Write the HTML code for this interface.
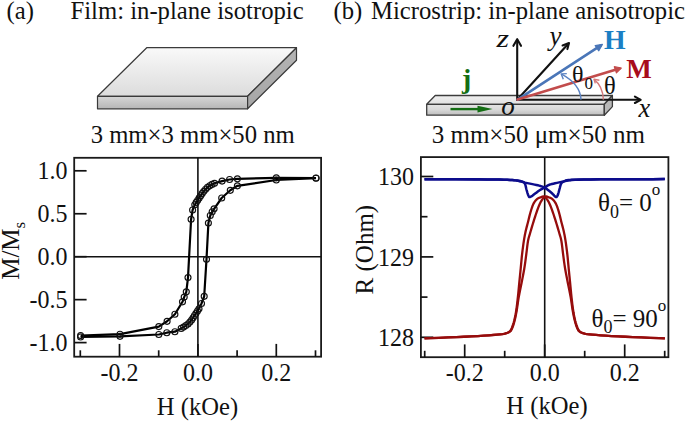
<!DOCTYPE html>
<html><head><meta charset="utf-8"><style>
html,body{margin:0;padding:0;background:#fff;}
svg{display:block;}
text{font-family:"Liberation Serif", serif;}
</style></head><body>
<svg width="685" height="421" viewBox="0 0 685 421" fill="#111">
<rect width="685" height="421" fill="#fff"/>

<defs>
<linearGradient id="gtop" x1="0" y1="0" x2="0" y2="1"><stop offset="0" stop-color="#f9f9f9"/><stop offset="1" stop-color="#dcdcdc"/></linearGradient>
<linearGradient id="gfront" x1="0" y1="0" x2="0" y2="1"><stop offset="0" stop-color="#d6d6d6"/><stop offset="1" stop-color="#b6b6b6"/></linearGradient>
<linearGradient id="gside" x1="0" y1="0" x2="0" y2="1"><stop offset="0" stop-color="#b4b4b4"/><stop offset="1" stop-color="#a6a6a6"/></linearGradient>
<linearGradient id="gtop2" x1="0" y1="0" x2="0" y2="1"><stop offset="0" stop-color="#efefef"/><stop offset="1" stop-color="#e0e0e0"/></linearGradient>
<linearGradient id="gfront2" x1="0" y1="0" x2="0" y2="1"><stop offset="0" stop-color="#e4e4e4"/><stop offset="0.5" stop-color="#d8d8d8"/><stop offset="1" stop-color="#bdbdbd"/></linearGradient>
</defs>
<g stroke="#3a3a3a" stroke-width="1.2" stroke-linejoin="round">
<polygon points="146.7,47.7 296.5,47.7 247.6,96.3 97.5,96.3" fill="url(#gtop)"/>
<polygon points="97.5,96.3 247.6,96.3 247.6,108.8 97.5,108.8" fill="url(#gfront)"/>
<polygon points="247.6,96.3 296.5,47.7 296.5,60.3 247.6,108.8" fill="url(#gside)"/>
</g>

<g stroke="#3c3c3c" stroke-width="1.3" stroke-linejoin="round">
<polygon points="435.2,95.5 612.4,95.5 604.3,104.3 426.7,104.3" fill="url(#gtop2)"/>
<polygon points="426.7,104.3 604.3,104.3 604.3,115.2 426.7,115.2" fill="url(#gfront2)"/>
<polygon points="604.3,104.3 612.4,95.5 612.4,106.6 604.3,115.2" fill="#b8b8b8"/>
</g>
<g stroke="#111" stroke-width="2.1" fill="none" stroke-linecap="round" stroke-linejoin="round">
<line x1="517.2" y1="99.8" x2="517.2" y2="40"/>
<polyline points="513.4,45.8 517.2,39.2 521,45.8"/>
<line x1="517.2" y1="99.8" x2="568.3" y2="43.8"/>
<polyline points="562.6,45.5 569.0,43.0 567.4,49.1"/>
<line x1="517.2" y1="99.8" x2="640" y2="99.8"/>
<polyline points="634.9,96.6 640.7,99.8 634.9,103"/>
</g>
<g stroke="#4a76b8" stroke-width="2.6" fill="none" stroke-linecap="round" stroke-linejoin="round">
<line x1="517.6" y1="99.6" x2="600.5" y2="45.6"/>
<polygon points="595.2,45.6 602.4,44.4 598.8,50.8" fill="#4a76b8" stroke-width="1.2"/>
</g>
<g stroke="#c24c4c" stroke-width="2.6" fill="none" stroke-linecap="round" stroke-linejoin="round">
<line x1="517.6" y1="99.6" x2="619.5" y2="68.6"/>
<polygon points="614.3,66.7 621.3,68 616.4,72.9" fill="#c24c4c" stroke-width="1.2"/>
</g>
<path d="M581,99.6 C580.6,90 576,82 561.6,74.2" fill="none" stroke="#5a82c2" stroke-width="1.4"/>
<polyline points="566.8,73.6 561.2,73.9 563.3,79.2" fill="none" stroke="#5a82c2" stroke-width="1.4" stroke-linejoin="round"/>
<path d="M603.4,99.6 C603,91 600,84 594.2,79.6" fill="none" stroke="#d47a7a" stroke-width="1.4"/>
<polyline points="599.4,80.2 594,79.3 595.3,83.4" fill="none" stroke="#d47a7a" stroke-width="1.4" stroke-linejoin="round"/>
<line x1="450.5" y1="109.1" x2="480" y2="109.1" stroke="#146e14" stroke-width="2.4"/>
<polygon points="477.5,105.8 492.6,109.1 477.5,112.4" fill="#146e14"/>
<text x="462" y="87.8" font-size="27.8" font-weight="bold" style="fill:#146e14">j</text>
<text x="501.3" y="114.8" font-size="27" font-style="italic">o</text>
<text transform="translate(496.5,46.6) scale(1.25,1)" font-size="25.7" font-style="italic">z</text>
<text x="549.5" y="45.3" font-size="27" font-style="italic">y</text>
<text x="638.6" y="117.2" font-size="26.5" font-style="italic">x</text>
<text x="604" y="48.9" font-size="27.8" font-weight="bold" style="fill:#1b7fc4">H</text>
<text x="626.2" y="77.6" font-size="27" font-weight="bold" style="fill:#a80c1c">M</text>
<text x="572" y="82.4" font-size="24">θ<tspan font-size="17" dx="1" dy="6.5">0</tspan></text>
<text x="603.9" y="94.2" font-size="24.5">θ</text>

<text x="6.5" y="18.7" font-size="24.7">(a)</text>
<text x="70.5" y="18.7" font-size="24.7">Film: in-plane isotropic</text>
<text x="333.5" y="18.7" font-size="24.7">(b)</text>
<text x="371" y="18.7" font-size="24.7">Microstrip: in-plane anisotropic</text>
<text x="192.7" y="142.6" font-size="24.7" text-anchor="middle">3 mm×3 mm×50 nm</text>
<text x="538.3" y="142.6" font-size="25" text-anchor="middle">3 mm×50 μm×50 nm</text>
<rect x="74.2" y="157.8" width="246.90000000000003" height="198.89999999999998" fill="none" stroke="#1a1a1a" stroke-width="1.8"/>
<line x1="197.9" y1="157.8" x2="197.9" y2="356.7" stroke="#111" stroke-width="1.6"/>
<line x1="74.2" y1="256.8" x2="321.1" y2="256.8" stroke="#111" stroke-width="1.6"/>
<line x1="74.2" y1="170.80" x2="86.60000000000001" y2="170.80" stroke="#111" stroke-width="1.7"/>
<text transform="translate(67.6,179.44) scale(1,1.08)" font-size="24" text-anchor="end">1.0</text>
<line x1="74.2" y1="213.75" x2="86.60000000000001" y2="213.75" stroke="#111" stroke-width="1.7"/>
<text transform="translate(67.6,222.39) scale(1,1.08)" font-size="24" text-anchor="end">0.5</text>
<line x1="74.2" y1="256.70" x2="86.60000000000001" y2="256.70" stroke="#111" stroke-width="1.7"/>
<text transform="translate(67.6,265.34) scale(1,1.08)" font-size="24" text-anchor="end">0.0</text>
<line x1="74.2" y1="299.65" x2="86.60000000000001" y2="299.65" stroke="#111" stroke-width="1.7"/>
<text transform="translate(67.6,308.29) scale(1,1.08)" font-size="24" text-anchor="end">-0.5</text>
<line x1="74.2" y1="342.60" x2="86.60000000000001" y2="342.60" stroke="#111" stroke-width="1.7"/>
<text transform="translate(67.6,351.24) scale(1,1.08)" font-size="24" text-anchor="end">-1.0</text>
<line x1="80.30" y1="356.7" x2="80.30" y2="350.30" stroke="#111" stroke-width="1.7"/>
<line x1="119.50" y1="356.7" x2="119.50" y2="343.90" stroke="#111" stroke-width="1.7"/>
<line x1="158.70" y1="356.7" x2="158.70" y2="350.30" stroke="#111" stroke-width="1.7"/>
<line x1="197.90" y1="356.7" x2="197.90" y2="343.90" stroke="#111" stroke-width="1.7"/>
<line x1="237.10" y1="356.7" x2="237.10" y2="350.30" stroke="#111" stroke-width="1.7"/>
<line x1="276.30" y1="356.7" x2="276.30" y2="343.90" stroke="#111" stroke-width="1.7"/>
<line x1="315.50" y1="356.7" x2="315.50" y2="350.30" stroke="#111" stroke-width="1.7"/>
<text transform="translate(119.5,380.84) scale(1,1.08)" font-size="24" text-anchor="middle">-0.2</text>
<text transform="translate(197.9,380.84) scale(1,1.08)" font-size="24" text-anchor="middle">0.0</text>
<text transform="translate(276.3,380.84) scale(1,1.08)" font-size="24" text-anchor="middle">0.2</text>
<text x="197.5" y="414.7" font-size="24.6" text-anchor="middle" >H (kOe)</text>
<text transform="translate(19,279.8) rotate(-90)" font-size="25">M/M<tspan font-size="17" dy="5.7">s</tspan></text>
<g fill="none" stroke="#111" stroke-width="1.15">
<path d="M316.00,178.00 L276.30,177.80 L237.40,178.80 L229.60,179.50 L222.10,181.10 L214.50,183.30 L212.04,184.42 L209.67,185.70 L207.53,187.34 L205.58,189.21 L203.83,191.26 L202.24,193.44 L200.70,195.66 L199.24,197.93 L197.74,200.18 L196.24,202.42 L194.83,204.73 L192.60,210.00 L191.10,219.30 L188.00,277.60 L186.30,291.80 L184.20,297.10 L182.50,301.80 L174.90,314.20 L167.10,321.30 L158.80,326.60 L120.00,334.20 L80.60,335.60" fill="none" stroke="#000" stroke-width="2.2" stroke-linejoin="round"/>
<path d="M80.60,337.00 L120.00,336.30 L158.80,334.50 L166.80,332.70 L174.90,331.70 L181.20,328.40 L183.55,327.08 L185.84,325.65 L187.96,323.98 L189.88,322.08 L191.56,319.97 L193.08,317.74 L194.54,315.47 L196.02,313.21 L197.51,310.96 L199.00,308.71 L201.50,303.50 L204.20,296.30 L206.50,259.30 L208.40,223.10 L210.30,215.50 L212.20,211.70 L214.10,208.80 L221.70,198.00 L230.30,190.30 L237.40,185.80 L276.30,180.00 L316.00,178.20" fill="none" stroke="#000" stroke-width="2.2" stroke-linejoin="round"/>
<circle cx="316.0" cy="178.0" r="3.0"/>
<circle cx="276.3" cy="177.8" r="3.0"/>
<circle cx="237.4" cy="178.8" r="3.0"/>
<circle cx="229.6" cy="179.5" r="3.0"/>
<circle cx="222.1" cy="181.1" r="3.0"/>
<circle cx="214.5" cy="183.3" r="3.0"/>
<circle cx="212.0" cy="184.4" r="3.0"/>
<circle cx="209.7" cy="185.7" r="3.0"/>
<circle cx="207.5" cy="187.3" r="3.0"/>
<circle cx="205.6" cy="189.2" r="3.0"/>
<circle cx="203.8" cy="191.3" r="3.0"/>
<circle cx="202.2" cy="193.4" r="3.0"/>
<circle cx="200.7" cy="195.7" r="3.0"/>
<circle cx="199.2" cy="197.9" r="3.0"/>
<circle cx="197.7" cy="200.2" r="3.0"/>
<circle cx="196.2" cy="202.4" r="3.0"/>
<circle cx="194.8" cy="204.7" r="3.0"/>
<circle cx="192.6" cy="210.0" r="3.0"/>
<circle cx="191.1" cy="219.3" r="3.0"/>
<circle cx="188.0" cy="277.6" r="3.0"/>
<circle cx="186.3" cy="291.8" r="3.0"/>
<circle cx="184.2" cy="297.1" r="3.0"/>
<circle cx="182.5" cy="301.8" r="3.0"/>
<circle cx="174.9" cy="314.2" r="3.0"/>
<circle cx="167.1" cy="321.3" r="3.0"/>
<circle cx="158.8" cy="326.6" r="3.0"/>
<circle cx="120.0" cy="334.2" r="3.0"/>
<circle cx="80.6" cy="335.6" r="3.0"/>
<circle cx="80.6" cy="337.0" r="3.0"/>
<circle cx="120.0" cy="336.3" r="3.0"/>
<circle cx="158.8" cy="334.5" r="3.0"/>
<circle cx="166.8" cy="332.7" r="3.0"/>
<circle cx="174.9" cy="331.7" r="3.0"/>
<circle cx="181.2" cy="328.4" r="3.0"/>
<circle cx="183.6" cy="327.1" r="3.0"/>
<circle cx="185.8" cy="325.6" r="3.0"/>
<circle cx="188.0" cy="324.0" r="3.0"/>
<circle cx="189.9" cy="322.1" r="3.0"/>
<circle cx="191.6" cy="320.0" r="3.0"/>
<circle cx="193.1" cy="317.7" r="3.0"/>
<circle cx="194.5" cy="315.5" r="3.0"/>
<circle cx="196.0" cy="313.2" r="3.0"/>
<circle cx="197.5" cy="311.0" r="3.0"/>
<circle cx="199.0" cy="308.7" r="3.0"/>
<circle cx="201.5" cy="303.5" r="3.0"/>
<circle cx="204.2" cy="296.3" r="3.0"/>
<circle cx="206.5" cy="259.3" r="3.0"/>
<circle cx="208.4" cy="223.1" r="3.0"/>
<circle cx="210.3" cy="215.5" r="3.0"/>
<circle cx="212.2" cy="211.7" r="3.0"/>
<circle cx="214.1" cy="208.8" r="3.0"/>
<circle cx="221.7" cy="198.0" r="3.0"/>
<circle cx="230.3" cy="190.3" r="3.0"/>
<circle cx="237.4" cy="185.8" r="3.0"/>
<circle cx="276.3" cy="180.0" r="3.0"/>
<circle cx="316.0" cy="178.2" r="3.0"/>
</g>
<rect x="420.9" y="157.1" width="247.5" height="200.1" fill="none" stroke="#1a1a1a" stroke-width="1.8"/>
<line x1="544.7" y1="157.1" x2="544.7" y2="357.2" stroke="#111" stroke-width="1.6"/>
<line x1="420.9" y1="176.50" x2="433.30" y2="176.50" stroke="#111" stroke-width="1.7"/>
<text transform="translate(414,185.14) scale(1,1.08)" font-size="24" text-anchor="end">130</text>
<line x1="420.9" y1="216.70" x2="427.50" y2="216.70" stroke="#111" stroke-width="1.7"/>
<line x1="420.9" y1="256.90" x2="433.30" y2="256.90" stroke="#111" stroke-width="1.7"/>
<text transform="translate(414,265.54) scale(1,1.08)" font-size="24" text-anchor="end">129</text>
<line x1="420.9" y1="297.10" x2="427.50" y2="297.10" stroke="#111" stroke-width="1.7"/>
<line x1="420.9" y1="337.30" x2="433.30" y2="337.30" stroke="#111" stroke-width="1.7"/>
<text transform="translate(414,345.94) scale(1,1.08)" font-size="24" text-anchor="end">128</text>
<line x1="424.70" y1="357.2" x2="424.70" y2="350.80" stroke="#111" stroke-width="1.7"/>
<line x1="464.70" y1="357.2" x2="464.70" y2="344.40" stroke="#111" stroke-width="1.7"/>
<line x1="504.70" y1="357.2" x2="504.70" y2="350.80" stroke="#111" stroke-width="1.7"/>
<line x1="544.70" y1="357.2" x2="544.70" y2="344.40" stroke="#111" stroke-width="1.7"/>
<line x1="584.70" y1="357.2" x2="584.70" y2="350.80" stroke="#111" stroke-width="1.7"/>
<line x1="624.70" y1="357.2" x2="624.70" y2="344.40" stroke="#111" stroke-width="1.7"/>
<line x1="664.70" y1="357.2" x2="664.70" y2="350.80" stroke="#111" stroke-width="1.7"/>
<text transform="translate(464.7,381.14) scale(1,1.08)" font-size="24" text-anchor="middle">-0.2</text>
<text transform="translate(544.7,381.14) scale(1,1.08)" font-size="24" text-anchor="middle">0.0</text>
<text transform="translate(624.7,381.14) scale(1,1.08)" font-size="24" text-anchor="middle">0.2</text>
<text x="547" y="414.2" font-size="24.6" text-anchor="middle" >H (kOe)</text>
<text transform="translate(372.8,249.6) rotate(-90)" font-size="25" text-anchor="middle">R (Ohm)</text>
<text x="598" y="210.8" font-size="25">θ<tspan font-size="18" dy="7.1">0</tspan><tspan font-size="25" dy="-7.1">= 0</tspan><tspan font-size="17" dy="-15.6">o</tspan></text>
<text x="591.5" y="326.6" font-size="25">θ<tspan font-size="18" dy="6.4">0</tspan><tspan font-size="25" dy="-6.4">= 90</tspan><tspan font-size="17" dy="-15.6">o</tspan></text>
<path d="M424.50,338.30 L430.36,338.09 L438.79,337.79 L448.07,337.44 L456.50,337.10 L463.94,336.76 L471.19,336.41 L477.95,336.05 L483.90,335.70 L488.96,335.34 L493.29,334.98 L496.95,334.63 L500.00,334.30 L502.25,334.03 L503.74,333.80 L504.86,333.55 L506.00,333.20 L507.22,332.79 L508.32,332.34 L509.32,331.77 L510.20,331.00 L510.94,329.99 L511.54,328.80 L512.07,327.46 L512.60,326.00 L513.14,324.44 L513.64,322.75 L514.13,320.94 L514.60,319.00 L515.05,316.98 L515.48,314.88 L515.89,312.58 L516.30,310.00 L516.71,307.06 L517.12,303.83 L517.52,300.44 L517.90,297.00 L518.26,293.51 L518.61,289.92 L518.95,286.30 L519.30,282.70 L519.65,279.15 L520.00,275.60 L520.35,272.05 L520.70,268.50 L521.04,264.92 L521.38,261.31 L521.72,257.73 L522.10,254.20 L522.52,250.65 L522.98,247.10 L523.44,243.70 L523.90,240.60 L524.34,237.93 L524.76,235.59 L525.21,233.37 L525.70,231.10 L526.26,228.75 L526.86,226.40 L527.49,224.05 L528.10,221.70 L528.69,219.30 L529.27,216.88 L529.86,214.49 L530.50,212.20 L531.17,209.96 L531.88,207.76 L532.61,205.70 L533.40,203.90 L534.25,202.38 L535.16,201.09 L536.09,200.00 L537.00,199.10 L537.88,198.44 L538.74,198.00 L539.61,197.69 L540.50,197.40 L541.42,197.03 L542.35,196.66 L543.28,196.46 L544.20,196.60 L545.10,197.16 L546.00,198.03 L546.87,199.11 L547.70,200.30 L548.46,201.56 L549.18,202.96 L549.88,204.50 L550.60,206.20 L551.34,208.08 L552.09,210.12 L552.85,212.28 L553.60,214.50 L554.35,216.79 L555.11,219.18 L555.86,221.60 L556.60,224.00 L557.33,226.42 L558.06,228.88 L558.76,231.27 L559.40,233.50 L559.96,235.38 L560.47,237.02 L560.94,238.77 L561.40,241.00 L561.84,243.87 L562.25,247.18 L562.66,250.69 L563.10,254.20 L563.56,257.70 L564.04,261.29 L564.54,264.91 L565.10,268.50 L565.72,272.05 L566.39,275.58 L567.09,279.12 L567.80,282.70 L568.53,286.35 L569.29,290.06 L570.03,293.74 L570.70,297.30 L571.27,300.80 L571.77,304.26 L572.24,307.54 L572.70,310.50 L573.16,313.07 L573.60,315.34 L574.04,317.42 L574.50,319.40 L574.97,321.31 L575.46,323.10 L575.96,324.76 L576.50,326.30 L577.05,327.73 L577.60,329.05 L578.23,330.22 L579.00,331.20 L579.93,331.95 L580.98,332.49 L582.14,332.92 L583.40,333.30 L584.55,333.62 L585.67,333.84 L587.15,334.05 L589.40,334.30 L592.45,334.62 L596.11,334.98 L600.44,335.34 L605.50,335.70 L611.45,336.05 L618.21,336.41 L625.46,336.76 L632.90,337.10 L641.33,337.44 L650.61,337.79 L659.04,338.09 L664.90,338.30" fill="none" stroke="#960c0c" stroke-width="2.3" stroke-linejoin="round"/>
<path d="M424.50,338.30 L430.36,338.09 L438.79,337.79 L448.07,337.44 L456.50,337.10 L463.94,336.76 L471.19,336.41 L477.95,336.05 L483.90,335.70 L488.96,335.34 L493.29,334.97 L496.95,334.62 L500.00,334.30 L502.25,334.05 L503.73,333.84 L504.85,333.62 L506.00,333.30 L507.26,332.92 L508.42,332.49 L509.47,331.95 L510.40,331.20 L511.17,330.22 L511.80,329.05 L512.35,327.73 L512.90,326.30 L513.44,324.76 L513.94,323.10 L514.43,321.31 L514.90,319.40 L515.36,317.42 L515.80,315.34 L516.24,313.07 L516.70,310.50 L517.16,307.54 L517.63,304.26 L518.13,300.80 L518.70,297.30 L519.37,293.74 L520.11,290.06 L520.87,286.35 L521.60,282.70 L522.31,279.12 L523.01,275.58 L523.68,272.05 L524.30,268.50 L524.86,264.91 L525.36,261.29 L525.84,257.70 L526.30,254.20 L526.74,250.69 L527.15,247.17 L527.56,243.87 L528.00,241.00 L528.46,238.77 L528.93,237.02 L529.44,235.38 L530.00,233.50 L530.64,231.27 L531.34,228.88 L532.07,226.42 L532.80,224.00 L533.54,221.60 L534.29,219.17 L535.05,216.79 L535.80,214.50 L536.55,212.28 L537.31,210.13 L538.06,208.08 L538.80,206.20 L539.52,204.50 L540.22,202.96 L540.94,201.56 L541.70,200.30 L542.53,199.11 L543.40,198.03 L544.30,197.16 L545.20,196.60 L546.12,196.46 L547.05,196.66 L547.98,197.03 L548.90,197.40 L549.79,197.69 L550.66,198.00 L551.52,198.44 L552.40,199.10 L553.31,200.00 L554.24,201.09 L555.15,202.38 L556.00,203.90 L556.79,205.70 L557.53,207.76 L558.23,209.96 L558.90,212.20 L559.54,214.49 L560.13,216.88 L560.71,219.30 L561.30,221.70 L561.91,224.05 L562.54,226.40 L563.14,228.75 L563.70,231.10 L564.19,233.37 L564.64,235.59 L565.06,237.93 L565.50,240.60 L565.96,243.70 L566.43,247.10 L566.88,250.65 L567.30,254.20 L567.68,257.73 L568.02,261.31 L568.36,264.92 L568.70,268.50 L569.05,272.05 L569.40,275.60 L569.75,279.15 L570.10,282.70 L570.45,286.30 L570.79,289.92 L571.14,293.51 L571.50,297.00 L571.88,300.44 L572.28,303.83 L572.69,307.06 L573.10,310.00 L573.51,312.58 L573.93,314.88 L574.35,316.98 L574.80,319.00 L575.27,320.94 L575.76,322.75 L576.26,324.44 L576.80,326.00 L577.33,327.46 L577.86,328.80 L578.46,329.99 L579.20,331.00 L580.08,331.77 L581.08,332.34 L582.18,332.79 L583.40,333.20 L584.54,333.55 L585.66,333.80 L587.15,334.03 L589.40,334.30 L592.45,334.63 L596.11,334.98 L600.44,335.34 L605.50,335.70 L611.45,336.05 L618.21,336.41 L625.46,336.76 L632.90,337.10 L641.33,337.44 L650.61,337.79 L659.04,338.09 L664.90,338.30" fill="none" stroke="#960c0c" stroke-width="2.3" stroke-linejoin="round"/>
<path d="M424.50,179.20 L433.04,179.21 L445.38,179.23 L458.65,179.26 L470.00,179.30 L479.01,179.36 L487.09,179.43 L494.13,179.51 L500.00,179.60 L504.41,179.71 L507.50,179.82 L509.84,179.96 L512.00,180.10 L513.90,180.24 L515.31,180.37 L516.56,180.54 L518.00,180.80 L519.64,181.17 L521.33,181.62 L523.13,182.11 L525.10,182.60 L527.39,183.10 L529.93,183.62 L532.43,184.14 L534.60,184.60 L536.35,184.99 L537.84,185.32 L539.16,185.65 L540.40,186.00 L541.54,186.35 L542.53,186.69 L543.49,187.08 L544.50,187.60 L545.62,188.29 L546.79,189.11 L547.94,189.98 L549.00,190.80 L549.95,191.56 L550.82,192.30 L551.66,193.04 L552.50,193.80 L553.37,194.70 L554.26,195.68 L555.09,196.53 L555.80,197.00 L556.36,197.06 L556.79,196.82 L557.19,196.30 L557.60,195.50 L558.06,194.30 L558.52,192.74 L558.97,191.06 L559.40,189.50 L559.78,188.06 L560.12,186.63 L560.48,185.30 L560.90,184.20 L561.34,183.37 L561.79,182.74 L562.34,182.25 L563.10,181.80 L564.09,181.41 L565.25,181.10 L566.56,180.84 L568.00,180.60 L569.18,180.36 L570.24,180.16 L571.94,179.97 L575.00,179.80 L579.05,179.65 L583.89,179.51 L590.53,179.40 L600.00,179.30 L614.92,179.22 L633.96,179.17 L652.22,179.13 L664.80,179.10" fill="none" stroke="#0c0c8c" stroke-width="2.5" stroke-linejoin="round"/>
<path d="M664.80,179.10 L652.22,179.13 L633.96,179.18 L614.92,179.23 L600.00,179.30 L590.55,179.38 L583.95,179.48 L579.12,179.58 L575.00,179.70 L571.71,179.82 L569.68,179.95 L568.31,180.10 L567.00,180.30 L565.84,180.54 L565.06,180.82 L564.27,181.14 L563.10,181.50 L561.32,181.91 L559.17,182.38 L556.96,182.86 L555.00,183.30 L553.36,183.67 L551.89,183.99 L550.52,184.34 L549.20,184.80 L547.94,185.42 L546.77,186.14 L545.64,186.90 L544.50,187.60 L543.36,188.21 L542.24,188.77 L541.12,189.35 L540.00,190.00 L538.89,190.75 L537.80,191.57 L536.68,192.43 L535.50,193.30 L534.15,194.32 L532.68,195.45 L531.30,196.43 L530.20,197.00 L529.50,197.08 L529.08,196.82 L528.77,196.28 L528.40,195.50 L527.94,194.41 L527.48,193.02 L527.03,191.49 L526.60,190.00 L526.22,188.49 L525.88,186.91 L525.52,185.42 L525.10,184.20 L524.69,183.33 L524.27,182.71 L523.73,182.24 L522.90,181.80 L521.71,181.40 L520.25,181.09 L518.64,180.84 L517.00,180.60 L515.63,180.38 L514.38,180.20 L512.69,180.04 L510.00,179.90 L506.98,179.78 L503.66,179.68 L498.50,179.59 L490.00,179.50 L475.29,179.41 L456.00,179.32 L437.34,179.25 L424.50,179.20" fill="none" stroke="#0c0c8c" stroke-width="2.5" stroke-linejoin="round"/>
</svg>
</body></html>
